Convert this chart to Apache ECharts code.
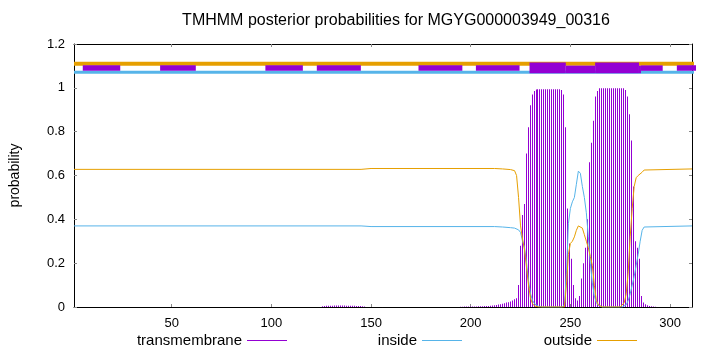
<!DOCTYPE html>
<html><head><meta charset="utf-8">
<script src="https://cdn.jsdelivr.net/npm/echarts@6/dist/echarts.min.js"></script>
<style>html,body{margin:0;padding:0;background:#fff}#c{width:720px;height:352px}</style>
</head><body><div id="c"></div>
<script>
const titleText = 'TMHMM posterior probabilities for MGYG000003949_00316';
const seqLen = 311;
const xTicks = [50, 100, 150, 200, 250, 300];
const yMax = 1.2, yStep = 0.2;
const legendNames = ['transmembrane', 'inside', 'outside'];

// transmembrane posterior probability, residues 1..311
const tmProb = [
0,0,0,0,0,0,0,0,0,0,
0,0,0,0,0,0,0,0,0,0,
0,0,0,0,0,0,0,0,0,0,
0,0,0,0,0,0,0,0,0,0,
0,0,0,0,0,0,0,0,0,0,
0,0,0,0,0,0,0,0,0,0,
0,0,0,0,0,0,0,0,0,0,
0,0,0,0,0,0,0,0,0,0,
0,0,0,0,0,0,0,0,0,0,
0,0,0,0,0,0,0,0,0,0,
0,0,0,0,0,0,0,0,0,0,
0,0,0,0,0,0,0,0,0,0,
0,0,0,0,0,0.003,0.005,0.006,0.006,0.006,
0.006,0.007,0.007,0.007,0.007,0.007,0.007,0.006,0.006,0.006,
0.006,0.006,0.005,0.005,0.004,0.003,0.002,0,0,0,
0,0,0,0,0,0,0,0,0,0,
0,0,0,0,0,0,0,0,0,0,
0,0,0,0,0,0,0,0,0,0,
0,0,0,0,0,0,0,0,0,0,
0,0,0,0,0.001,0.001,0.002,0.002,0.002,0.002,
0.002,0.002,0.002,0.003,0.003,0.003,0.004,0.004,0.005,0.006,
0.007,0.008,0.009,0.011,0.013,0.015,0.017,0.02,0.022,0.025,
0.03,0.035,0.04,0.10,0.28,0.42,0.47,0.70,0.82,0.92,
0.97,0.986,0.992,0.994,0.994,0.994,0.994,0.994,0.994,0.994,
0.994,0.994,0.994,0.994,0.994,0.99,0.97,0.82,0.45,0.29,
0.22,0.10,0.04,0.03,0.05,0.13,0.20,0.27,0.40,0.66,
0.75,0.85,0.96,0.986,0.998,0.998,0.998,0.998,0.998,0.998,
0.998,0.998,0.998,0.998,0.998,0.998,0.998,0.99,0.96,0.88,
0.76,0.55,0.30,0.27,0.22,0.05,0.02,0.012,0.008,0.005,
0.003,0.002,0.001,0,0,0,0,0,0,0,
0,0,0,0,0,0,0,0,0,0,0
];

// inside probability [residue, p]
const insidePts = [
[1,0.370],[145,0.370],[150,0.367],[212,0.367],[216,0.365],[220,0.362],[222,0.36],[223,0.357],
[224,0.352],[225,0.34],[226,0.30],[227,0.27],[228,0.20],[229,0.12],[230,0.06],[231,0.03],
[232,0.015],[233,0.007],[234,0.003],[236,0],[246,0],[247,0.01],[248,0.15],[249,0.38],[250,0.45],
[251,0.48],[252,0.50],[253,0.56],[254,0.62],[255,0.61],[256,0.55],[257,0.50],[258,0.43],
[259,0.32],[260,0.20],[261,0.11],[262,0.05],[263,0.02],[264,0.008],[265,0.003],[266,0],
[276,0],[277,0.005],[278,0.01],[279,0.03],[280,0.06],[281,0.10],[282,0.14],[283,0.19],
[284,0.24],[285,0.30],[286,0.35],[287,0.365],[288,0.37],[311,0.37]
];

// outside probability [residue, p]
const outsidePts = [
[1,0.628],[145,0.628],[150,0.632],[212,0.632],[216,0.63],[220,0.627],[222,0.622],[223,0.60],
[224,0.50],[225,0.37],[226,0.31],[227,0.26],[228,0.18],[229,0.10],[230,0.04],[231,0.015],
[232,0.005],[233,0.002],[234,0],[247,0],[248,0.10],[249,0.24],[250,0.29],[251,0.30],[252,0.32],
[253,0.35],[254,0.37],[255,0.37],[256,0.36],[257,0.33],[258,0.30],[259,0.27],[260,0.23],
[261,0.19],[262,0.10],[263,0.03],[264,0.01],[265,0.003],[266,0],[275,0],[276,0.003],[277,0.02],
[278,0.06],[279,0.16],[280,0.32],[281,0.45],[282,0.55],[283,0.59],[284,0.60],[285,0.605],
[286,0.615],[287,0.625],[288,0.63],[311,0.63]
];

// topology track segments [from, to] (residues)
const outsideTrack = [[1, 325]];
const insideTrack = [[1, 325]];
const tmTrackThin = [[5.4,24.2],[44.2,62.1],[97,115.8],[122.8,144.9],[173.8,195.8],[202.6,224.5],[285.4,296.3],[303.4,325]];
const tmTrackMid = [[247.7,262.4],[284.4,285.4]];
const tmTrackThick = [[229.5,247.7],[262.4,284.4]];
const trackLevel = { outside: 1.11, tm: 1.09, tmMid: 1.084, tmThick: 1.091, inside: 1.071 };

const PURPLE = '#9400d3', BLUE = '#56b4e9', ORANGE = '#e69f00';
const FONT = 'Liberation Sans, Arial, sans-serif';

function trackSeries(segs, level, color, width) {
  return segs.map(s => ({
    type: 'line', data: [[s[0], level], [s[1], level]], clip: false, silent: true,
    symbol: 'none', lineStyle: { color: color, width: width, cap: 'butt' }, z: 5, animation: false
  }));
}

function impulse(params, api) {
  const x = api.value(0), y = api.value(1);
  if (!(y > 0)) return null;
  const top = api.coord([x, y]);
  const base = api.coord([x, 0]);
  return { type: 'rect', shape: { x: Math.round(base[0]) - 1, y: top[1], width: 1, height: base[1] - top[1] },
    style: { fill: PURPLE } };
}

const chart = echarts.init(document.getElementById('c'), null, { renderer: 'canvas' });
const tickStyle = { show: true, inside: true, length: 3, lineStyle: { color: '#888', width: 1 } };
const lineStyleAxis = { show: true, onZero: false, lineStyle: { color: '#000', width: 1 } };

const series = [
  { type: 'custom', name: legendNames[0], data: tmProb.map((v, i) => [i + 1, v]), renderItem: impulse,
    itemStyle: { color: PURPLE }, color: PURPLE, silent: true, animation: false },
  { type: 'line', name: legendNames[1], data: insidePts, symbol: 'none', color: BLUE,
    lineStyle: { color: BLUE, width: 1 }, silent: true, animation: false },
  { type: 'line', name: legendNames[2], data: outsidePts, symbol: 'none', color: ORANGE,
    lineStyle: { color: ORANGE, width: 1 }, silent: true, animation: false }
].concat(
  trackSeries(outsideTrack, trackLevel.outside, ORANGE, 4),
  trackSeries(insideTrack, trackLevel.inside, BLUE, 3),
  trackSeries(tmTrackThin, trackLevel.tm, PURPLE, 5.5),
  trackSeries(tmTrackMid, trackLevel.tmMid, PURPLE, 7.6),
  trackSeries(tmTrackThick, trackLevel.tmThick, PURPLE, 10.6)
);

function legendAt(name, right) {
  return { data: [name], right: right, top: 333, align: 'right', icon: 'rect', itemWidth: 40, itemHeight: 1,
    padding: 0, selectedMode: false, textStyle: { color: '#000', fontSize: 15, fontFamily: FONT } };
}

chart.setOption({
  animation: false,
  title: { text: titleText, left: 396, textAlign: 'center', top: 13, padding: 0,
    textStyle: { fontSize: 16, fontWeight: 'normal', color: '#000', fontFamily: FONT } },
  legend: [legendAt(legendNames[0], 433), legendAt(legendNames[1], 258), legendAt(legendNames[2], 83)],
  grid: { left: 73, right: 28, top: 44, bottom: 45 },
  xAxis: [
    { type: 'value', min: 1, max: seqLen, position: 'bottom', axisLine: lineStyleAxis,
      axisTick: Object.assign({ customValues: xTicks }, tickStyle),
      axisLabel: { customValues: xTicks, margin: 10, fontSize: 13, color: '#000', fontFamily: FONT },
      splitLine: { show: false } },
    { type: 'value', min: 1, max: seqLen, position: 'top', axisLine: lineStyleAxis,
      axisTick: Object.assign({ customValues: xTicks }, tickStyle),
      axisLabel: { show: false }, splitLine: { show: false } }
  ],
  yAxis: [
    { type: 'value', min: 0, max: yMax, interval: yStep, position: 'left', axisLine: lineStyleAxis,
      axisTick: tickStyle,
      axisLabel: { margin: 9, fontSize: 13, color: '#000', fontFamily: FONT, formatter: v => String(+v.toFixed(1)) },
      splitLine: { show: false },
      name: 'probability', nameLocation: 'middle', nameGap: 52,
      nameTextStyle: { fontSize: 14, color: '#000', fontFamily: FONT } },
    { type: 'value', min: 0, max: yMax, interval: yStep, position: 'right', axisLine: lineStyleAxis,
      axisTick: tickStyle, axisLabel: { show: false }, splitLine: { show: false } }
  ],
  series: series
});
</script></body></html>
